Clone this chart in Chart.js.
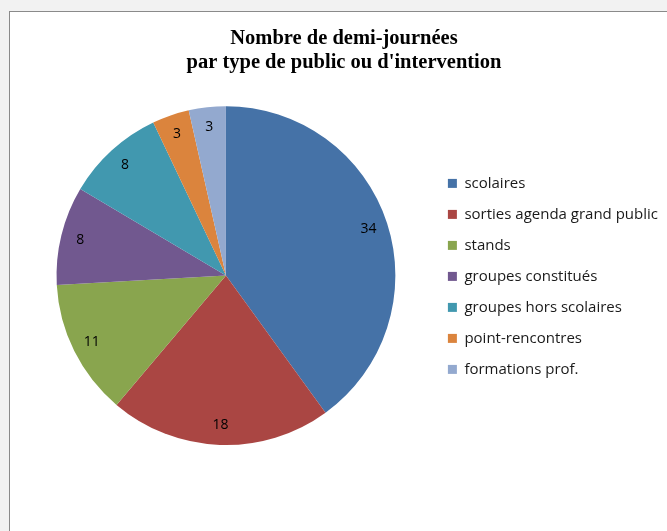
<!DOCTYPE html>
<html>
<head>
<meta charset="utf-8">
<script src="https://cdn.jsdelivr.net/npm/chart.js@4/dist/chart.umd.min.js"></script>
<style>
  html, body { margin: 0; padding: 0; background: #f2f2f2; overflow: hidden; }
  #panel {
    position: absolute; left: 9px; top: 11px;
    width: 670px; height: 530px;
    background: #fff;
    border: 1px solid #8a8a8a;
  }
</style>
</head>
<body>
<div id="panel"><canvas id="pie" width="670" height="520"></canvas></div>
<script>
const categories = ['scolaires', 'sorties agenda grand public', 'stands', 'groupes constitués',
    'groupes hors scolaires', 'point-rencontres', 'formations prof.'];
const demiJournees = [34, 18, 11, 8, 8, 3, 3];
const sliceColors = ['#4572a7', '#aa4643', '#89a54e', '#71588f', '#4198af', '#db843d', '#93a9cf'];
const titleLines = ['Nombre de demi-journées', "par type de public ou d'intervention"];

// Values written inside each slice
const sliceLabels = {
    id: 'sliceLabels',
    afterDatasetsDraw(chart) {
        const ctx = chart.ctx;
        const meta = chart.getDatasetMeta(0);
        ctx.save();
        ctx.font = '14px "Open Sans", sans-serif';
        ctx.fillStyle = '#000';
        ctx.textAlign = 'center';
        ctx.textBaseline = 'middle';
        meta.data.forEach((arc, i) => {
            const p = arc.getProps(['x', 'y', 'startAngle', 'endAngle', 'outerRadius'], true);
            const mid = (p.startAngle + p.endAngle) / 2;
            const r = p.outerRadius * 0.885;
            ctx.fillText(String(demiJournees[i]), p.x + Math.cos(mid) * r, p.y + Math.sin(mid) * r);
        });
        ctx.restore();
    }
};

new Chart(document.getElementById('pie').getContext('2d'), {
    type: 'pie',
    data: {
        labels: categories,
        datasets: [{
            data: demiJournees,
            backgroundColor: sliceColors,
            borderWidth: 0
        }]
    },
    options: {
        responsive: false,
        animation: false,
        layout: { padding: { left: 10, right: 12, top: 0, bottom: 87 } },
        plugins: {
            title: {
                display: true,
                text: titleLines,
                color: '#000',
                font: { family: '"Liberation Serif", serif', size: 20.5, weight: 'bold', lineHeight: 1.15 },
                padding: { top: 15, bottom: 32 }
            },
            legend: {
                position: 'right',
                // empty title only used to push the item column down
                title: { display: true, text: ' ', padding: { top: 40, bottom: 39 }, font: { size: 14, lineHeight: 1.2 } },
                labels: {
                    boxWidth: 9,
                    boxHeight: 9,
                    padding: 16,
                    color: '#1a1a1a',
                    font: { family: '"Open Sans", sans-serif', size: 15 }
                }
            },
            tooltip: { enabled: false }
        }
    },
    plugins: [sliceLabels]
});
</script>
</body>
</html>
